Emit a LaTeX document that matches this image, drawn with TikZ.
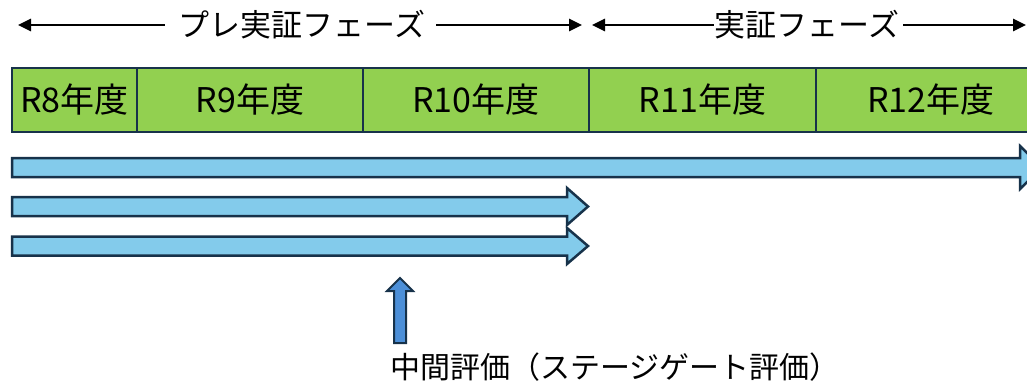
\documentclass[tikz,border=0pt]{standalone}
\usepackage{fontspec}
\setmainfont{Noto Sans CJK JP}
\usetikzlibrary{arrows.meta}
\definecolor{edgec}{HTML}{17324A}
\definecolor{yeargreen}{HTML}{92D050}
\definecolor{barblue}{HTML}{83CBEB}
\definecolor{upblue}{HTML}{4C8FD8}
\tikzset{
  phaseline/.style={line width=2.8pt, black, -{Triangle[length=13pt,width=12pt]}},
  phaselabel/.style={inner sep=0pt, font=\fontsize{31}{36}\selectfont},
  yearbox/.style={draw=edgec, fill=yeargreen, line width=2.5pt, minimum height=64pt,
     inner sep=0pt, font=\fontsize{34}{40}\selectfont},
  barshape/.style={draw=edgec, fill=barblue, line width=2.5pt, line join=miter},
  upshape/.style={draw=edgec, fill=upblue, line width=2pt, line join=miter},
  notelabel/.style={inner sep=0pt, font=\fontsize{30}{36}\selectfont}
}
\begin{document}
\begin{tikzpicture}[x=1pt,y=-1pt]
\useasboundingbox (0,0) rectangle (1027,383);
% phase labels and arrows
\node[phaselabel] (pre) at (302,25) {プレ実証フェーズ};
\coordinate (preL) at (18,25);
\coordinate (preR) at (582,25);
\draw[phaseline] ([xshift=-14pt]pre.west) -- (preL);
\draw[phaseline] ([xshift=11pt]pre.east) -- (preR);
\node[phaselabel] (main) at (807,25) {実証フェーズ};
\coordinate (mainL) at (592,25);
\coordinate (mainR) at (1026,25);
\draw[phaseline] ([xshift=-1pt]main.west) -- (mainL);
\draw[phaseline] ([xshift=4pt]main.east) -- (mainR);
% year boxes
\node[yearbox, minimum width=125pt] (r8) at (74.5,100) {R8年度};
\node[yearbox, minimum width=226pt] (r9) at (250,100) {R9年度};
\node[yearbox, minimum width=226pt] (r10) at (476,100) {R10年度};
\node[yearbox, minimum width=227pt] (r11) at (702.5,100) {R11年度};
\node[yearbox, minimum width=230pt] (r12) at (931,100) {R12年度};
% blue bars
\draw[barshape] (12,158) -- (1020,158) -- (1020,146) -- (1042,167.5) -- (1020,189) -- (1020,177) -- (12,177) -- cycle;
\draw[barshape] (12,197) -- (567,197) -- (567,188) -- (588,206.5) -- (567,225) -- (567,216) -- (12,216) -- cycle;
\draw[barshape] (12,236.5) -- (567,236.5) -- (567,228) -- (588,246) -- (567,264) -- (567,255.5) -- (12,255.5) -- cycle;
% up arrow
\draw[upshape] (394,343) -- (394,291) -- (387,291) -- (400,278) -- (413,291) -- (406,291) -- (406,343) -- cycle;
\node[notelabel, anchor=west] (note) at (390,367) {中間評価（ステージゲート評価）};
\end{tikzpicture}
\end{document}
